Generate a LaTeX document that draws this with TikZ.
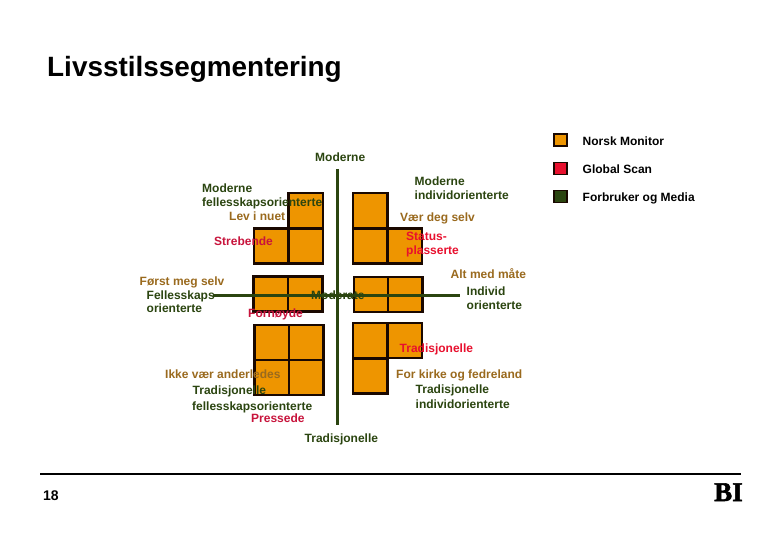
\documentclass[tikz,border=0pt]{standalone}
\usepackage{fontspec}
\setmainfont{Liberation Sans}
\newfontfamily\logofont[FakeBold=2]{Liberation Serif Bold}
\definecolor{orangefill}{HTML}{EE9500}
\definecolor{darkgreen}{HTML}{2B4510}
\definecolor{brownlab}{HTML}{9A6A1E}
\definecolor{redlab}{HTML}{C8143C}
\definecolor{brightred}{HTML}{E8102E}
\definecolor{nearblack}{HTML}{1A0800}
\tikzset{
  cell/.style={draw=nearblack,fill=orangefill,line width=2.4pt,minimum width=34.5pt,minimum height=35pt,inner sep=0pt,outer sep=0pt,anchor=north west},
  legendbox/.style={draw=nearblack,line width=1.8pt,minimum width=12.5pt,minimum height=12pt,inner sep=0pt},
  axis/.style={draw=darkgreen,line width=3pt},
  lab/.style={font=\bfseries\fontsize{12}{14}\selectfont,inner sep=0pt,anchor=base west},
  grn/.style={lab,text=darkgreen},
  brn/.style={lab,text=brownlab},
  rd/.style={lab,text=redlab},
  blk/.style={lab,text=black}
}
\begin{document}
\begin{tikzpicture}[x=1pt,y=-1pt]
\useasboundingbox (0,0) rectangle (780,540);
\fill[white] (0,0) rectangle (780,540);
\node[inner sep=0pt,anchor=base west,text=black,font=\bfseries\fontsize{27.9}{33}\selectfont] (title) at (47,76.5) {Livsstilssegmentering};
% cells
\node[cell] (a1) at (288.5,193) {};
\node[cell] (a2) at (254,228.5) {};
\node[cell] (a3) at (288.5,228.5) {};
\node[cell] (b1) at (253.5,276.5) {};
\node[cell] (b2) at (288,276.5) {};
\node[cell] (c1) at (254.5,325) {};
\node[cell] (c2) at (289,325) {};
\node[cell] (c3) at (254.5,360) {};
\node[cell] (c4) at (289,360) {};
\node[cell] (d1) at (353,193) {};
\node[cell] (d2) at (353,228.5) {};
\node[cell] (d3) at (387.5,228.5) {};
\node[cell] (e1) at (354,277) {};
\node[cell] (e2) at (388,277) {};
\node[cell] (f1) at (353,323) {};
\node[cell] (f2) at (387.5,323) {};
\node[cell] (f3) at (353,358.5) {};
% axes
\coordinate (vt) at (337.5,169);
\coordinate (vb) at (337.5,425);
\coordinate (hl) at (213,295.5);
\coordinate (hr) at (460,295.5);
\draw[axis] (vt) -- (vb);
\draw[axis] (hl) -- (hr);
% labels
\node[grn] (t1) at (315,162) {Moderne};
\node[grn] (t2) at (202,193) {Moderne};
\node[grn] (t3) at (202,207) {fellesskapsorienterte};
\node[brn] (t4) at (229,221) {Lev i nuet};
\node[rd] (t5) at (214,246) {Strebende};
\node[brn] (t6) at (139.5,285.5) {Først meg selv};
\node[grn] (t7) at (146.5,300) {Fellesskaps};
\node[grn] (t8) at (146.5,313) {orienterte};
\node[grn] (t9) at (311,299.5) {Moderate};
\node[rd] (t10) at (248,318) {Fornøyde};
\node[grn] (t11) at (414.5,186) {Moderne};
\node[grn] (t12) at (414.5,200) {individorienterte};
\node[brn] (t13) at (400,222) {Vær deg selv};
\node[lab,text=brightred] (t14) at (406,241) {Status-};
\node[lab,text=brightred] (t15) at (406,255) {plasserte};
\node[brn] (t16) at (450.5,279) {Alt med måte};
\node[grn] (t17) at (466.5,296) {Individ};
\node[grn] (t18) at (466.5,310) {orienterte};
\node[lab,text=brightred] (t19) at (399.5,353) {Tradisjonelle};
\node[brn] (t20) at (396,379) {For kirke og fedreland};
\node[grn] (t21) at (415.5,394) {Tradisjonelle};
\node[grn] (t22) at (415.5,408) {individorienterte};
\node[brn] (t23) at (165,379) {Ikke vær anderledes};
\node[grn] (t24) at (192.5,395) {Tradisjonelle};
\node[grn] (t25) at (192,410) {fellesskapsorienterte};
\node[rd] (t26) at (251,422) {Pressede};
\node[grn] (t27) at (304.5,442) {Tradisjonelle};
% legend
\node[legendbox,fill=orangefill] (l1) at (560.5,140) {};
\node[legendbox,fill=brightred] (l2) at (560.5,168.5) {};
\node[legendbox,fill=darkgreen] (l3) at (560.5,196.5) {};
\node[blk] (l1t) at (582.5,146) {Norsk Monitor};
\node[blk] (l2t) at (582.5,174) {Global Scan};
\node[blk] (l3t) at (582.5,202) {Forbruker og Media};
% footer
\coordinate (fl) at (40,474);
\coordinate (fr) at (741,474);
\draw[draw=black,line width=1.8pt] (fl) -- (fr);
\node[lab,text=black,font=\bfseries\fontsize{14}{15}\selectfont] (page) at (43,500.5) {18};
\node[inner sep=0pt,anchor=base west,text=black,font=\logofont\fontsize{27}{30}\selectfont] (logo) at (714,501) {BI};
\end{tikzpicture}
\end{document}
